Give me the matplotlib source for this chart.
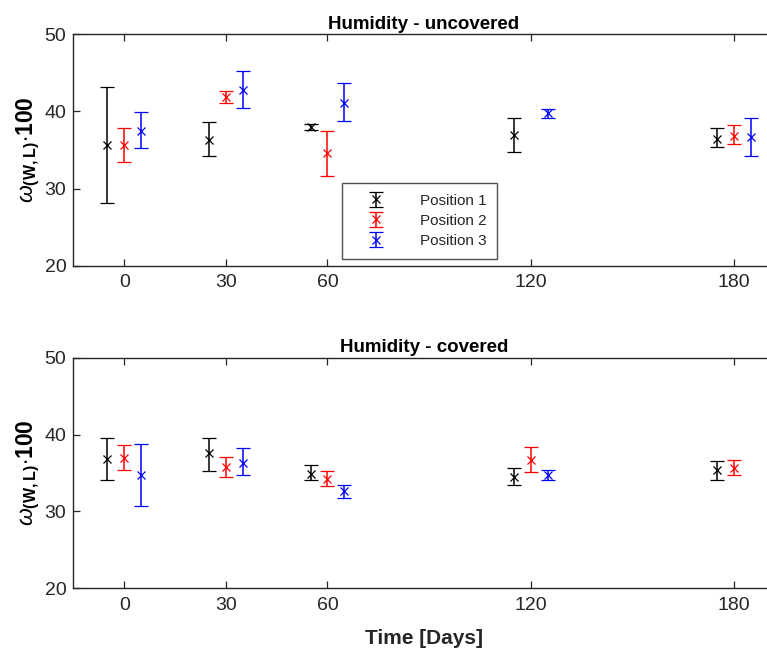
import numpy as np
import matplotlib
matplotlib.use("Agg")
import matplotlib.pyplot as plt

plt.rcParams['font.family'] = ['Liberation Sans', 'DejaVu Sans']
plt.rcParams['mathtext.fontset'] = 'custom'
plt.rcParams['mathtext.rm'] = 'Liberation Sans'
plt.rcParams['mathtext.bf'] = 'Liberation Sans:bold'
plt.rcParams['mathtext.it'] = 'Liberation Sans:italic'

days = [0, 30, 60, 120, 180]
tick_labels = ['0', '30', '60', '120', '180']
offsets = [-5, 0, 5]
labels = ['Position 1', 'Position 2', 'Position 3']
colors = ['black', 'red', 'blue']

# Uncovered: mean, upper, lower per position (nan = missing)
unc_p1_mean = [35.6, 36.3, 38.0, 36.9, 36.4]
unc_p1_hi = [43.2, 38.6, 38.4, 39.1, 37.8]
unc_p1_lo = [28.1, 34.2, 37.6, 34.8, 35.4]
unc_p2_mean = [35.6, 41.9, 34.6, np.nan, 36.8]
unc_p2_hi = [37.8, 42.65, 37.5, np.nan, 38.2]
unc_p2_lo = [33.5, 41.1, 31.6, np.nan, 35.8]
unc_p3_mean = [37.5, 42.8, 41.05, 39.75, 36.7]
unc_p3_hi = [39.9, 45.2, 43.7, 40.3, 39.1]
unc_p3_lo = [35.2, 40.5, 38.8, 39.15, 34.2]

# Covered
cov_p1_mean = [36.8, 37.6, 34.9, 34.5, 35.4]
cov_p1_hi = [39.6, 39.6, 36.0, 35.7, 36.5]
cov_p1_lo = [34.1, 35.2, 34.1, 33.5, 34.1]
cov_p2_mean = [36.9, 35.8, 34.2, 36.7, 35.7]
cov_p2_hi = [38.6, 37.1, 35.3, 38.4, 36.7]
cov_p2_lo = [35.4, 34.5, 33.3, 35.1, 34.7]
cov_p3_mean = [34.7, 36.35, 32.6, 34.7, np.nan]
cov_p3_hi = [38.8, 38.2, 33.5, 35.4, np.nan]
cov_p3_lo = [30.75, 34.8, 31.8, 34.1, np.nan]

W, H = 767, 655
fig = plt.figure(figsize=(W / 100, H / 100), dpi=100)

def make_ax(top_px, bot_px):
    left = 73.4 / W
    return fig.add_axes([left, 1 - bot_px / H, 1 - left + 0.01, (bot_px - top_px) / H])

ax1 = make_ax(34.3, 265.7)
ax2 = make_ax(357.7, 588.3)

gray = '#262626'

def draw(ax, series, title, legend=False, xlabel=None):
    handles = []
    for (m, hi, lo), off, c, lab in zip(series, offsets, colors, labels):
        m = np.array(m); hi = np.array(hi); lo = np.array(lo)
        x = np.array(days) + off
        h = ax.errorbar(x, m, yerr=[m - lo, hi - m], fmt='x', color=c,
                        ecolor=c, elinewidth=1.1, capsize=5.2, capthick=1.1,
                        markersize=6, markeredgewidth=0.9, label=lab)
        handles.append(h)
    ax.set_xlim(-15, 192)
    ax.set_ylim(20, 50)
    ax.set_xticks(days)
    ax.set_xticklabels(tick_labels)
    ax.set_yticks([20, 30, 40, 50])
    ax.tick_params(direction='in', length=5, width=0.9, colors=gray,
                   labelsize=14, top=True, right=False, pad=6)
    ax.tick_params(axis='y', pad=5)
    for s in ['left', 'bottom', 'top']:
        ax.spines[s].set_color(gray)
        ax.spines[s].set_linewidth(1.0)
    ax.spines['right'].set_visible(False)
    ax.set_title(title, fontsize=13.5, fontweight='bold', color='black', pad=4)
    ax.set_ylabel(r'$\omega_{\mathbf{(W,L)}}\mathbf{\cdot 100}$', fontsize=16.5,
                  color='black', labelpad=2)
    if xlabel:
        ax.set_xlabel(xlabel, fontsize=15, fontweight='bold', color=gray, labelpad=11)
    if legend:
        leg = ax.legend(handles=handles, loc='upper left',
                        bbox_to_anchor=(342 / W, 1 - 183 / H),
                        bbox_transform=fig.transFigure, borderaxespad=0,
                        fontsize=11, frameon=True, fancybox=False,
                        edgecolor=gray, handlelength=3.0, handletextpad=1.4,
                        borderpad=0.7, labelspacing=0.4)
        leg.get_frame().set_linewidth(1.0)
        for t in leg.get_texts():
            t.set_color(gray)

draw(ax1, [(unc_p1_mean, unc_p1_hi, unc_p1_lo),
           (unc_p2_mean, unc_p2_hi, unc_p2_lo),
           (unc_p3_mean, unc_p3_hi, unc_p3_lo)],
     'Humidity - uncovered', legend=True)
draw(ax2, [(cov_p1_mean, cov_p1_hi, cov_p1_lo),
           (cov_p2_mean, cov_p2_hi, cov_p2_lo),
           (cov_p3_mean, cov_p3_hi, cov_p3_lo)],
     'Humidity - covered', xlabel='Time [Days]')

fig.savefig('out.png', dpi=100)
